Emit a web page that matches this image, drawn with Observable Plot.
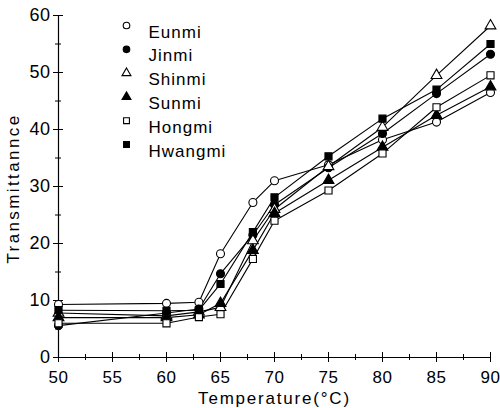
<!DOCTYPE html>
<html><head><meta charset="utf-8">
<script src="https://cdn.jsdelivr.net/npm/d3@7"></script>
<script src="https://cdn.jsdelivr.net/npm/@observablehq/plot@0.6"></script>
<style>
html,body{margin:0;padding:0;background:#fff;}
</style>
</head><body>
<div id="chart"></div>
<script>
const temps = [50, 60, 63, 65, 68, 70, 75, 80, 85, 90];
const names = ["Eunmi", "Jinmi", "Shinmi", "Sunmi", "Hongmi", "Hwangmi"];
const eunmi   = [9.3, 9.5, 9.7, 18.2, 27.2, 31.0, 33.8, 38.2, 41.3, 46.5];
const jinmi   = [5.6, 7.8, 8.5, 14.7, 21.5, 26.8, 33.3, 39.3, 46.3, 53.2];
const shinmi  = [7.8, 7.3, 8.0, 8.8, 20.5, 26.0, 33.5, 40.4, 49.5, 58.2];
const sunmi   = [7.0, 7.0, 7.5, 9.5, 18.8, 25.3, 31.1, 36.9, 42.5, 47.5];
const hongmi  = [6.0, 6.0, 7.1, 7.6, 17.3, 24.0, 29.3, 35.8, 43.9, 49.5];
const hwangmi = [8.3, 8.2, 8.3, 12.9, 22.0, 28.1, 35.3, 41.9, 47.0, 55.0];
const xTicks = [50, 55, 60, 65, 70, 75, 80, 85, 90];
const xMinor = [52.5, 57.5, 62.5, 67.5, 72.5, 77.5, 82.5, 87.5];
const yTicks = [0, 10, 20, 30, 40, 50, 60];
const yMinor = [5, 15, 25, 35, 45, 55];
const xTitle = "Temperature(°C)";
const yTitle = "Transmittannce";

const values = [eunmi, jinmi, shinmi, sunmi, hongmi, hwangmi];
const symbols = ["circle", "circle", "triangle", "triangle", "square", "square"];
const filled = [false, true, false, true, false, true];

const data = names.flatMap((n, i) => temps.map((t, j) => ({name: n, x: t, y: values[i][j]})));

const font = "'Liberation Sans', Arial, sans-serif";
const marks = [
  Plot.ruleX([50], {strokeWidth: 1.2}),
  Plot.ruleY([0], {strokeWidth: 1.2}),
  Plot.axisY({ticks: yTicks, tickSize: 10, dx: 5, tickFormat: () => "", label: null}),
  Plot.axisY({ticks: yMinor, tickSize: 6, dx: 3, tickFormat: () => "", label: null}),
  Plot.axisY({ticks: yTicks, tickSize: 0, tickPadding: 8, label: null, fontSize: 18}),
  Plot.axisX({ticks: xTicks, tickSize: 10, dy: -5, tickFormat: () => "", label: null}),
  Plot.axisX({ticks: xMinor, tickSize: 6, dy: -3, tickFormat: () => "", label: null}),
  Plot.axisX({ticks: xTicks, tickSize: 0, tickPadding: 13, label: null, fontSize: 17}),
  Plot.text([xTitle], {frameAnchor: "bottom", lineAnchor: "middle", textAnchor: "middle", dy: 41, fontSize: 17, fill: "black"}),
  Plot.text([yTitle], {frameAnchor: "left", lineAnchor: "middle", textAnchor: "middle", rotate: -90, dx: -45, dy: 2, fontSize: 17, fill: "black"}),
  Plot.line(data, {x: "x", y: "y", z: "name", stroke: "black", strokeWidth: 1.1})
];
names.forEach((n, i) => {
  marks.push(Plot.dot(data.filter(d => d.name === n), {
    x: "x", y: "y", symbol: symbols[i], r: 4,
    fill: filled[i] ? "black" : "white", stroke: "black", strokeWidth: 1.1
  }));
  marks.push(Plot.dot([n], {frameAnchor: "top-left", dx: 68, dy: 10 + i * 23.8, symbol: symbols[i], r: 3.3,
    fill: filled[i] ? "black" : "white", stroke: "black", strokeWidth: 1.1}));
  marks.push(Plot.text([n], {frameAnchor: "top-left", dx: 90, dy: 10 + i * 23.8, text: d => d, textAnchor: "start",
    fontSize: 17, fill: "black"}));
});

const chart = Plot.plot({
  width: 500,
  height: 408,
  marginLeft: 58,
  marginRight: 10,
  marginTop: 15,
  marginBottom: 51,
  x: {domain: [50, 90]},
  y: {domain: [0, 60]},
  style: {fontFamily: font, fontSize: "17px", color: "black", background: "white"},
  marks
});
document.getElementById("chart").appendChild(chart);
const sel = d3.select(chart).selectAll("text");
sel.filter(function() { return this.textContent === xTitle; }).attr("letter-spacing", "1.8px");
sel.filter(function() { return this.textContent === yTitle; }).attr("letter-spacing", "2.4px");
sel.filter(function() { return names.includes(this.textContent); }).attr("letter-spacing", "1px");
sel.filter(function() { return /^\d+$/.test(this.textContent); }).attr("letter-spacing", "0.5px");
</script>
</body></html>
